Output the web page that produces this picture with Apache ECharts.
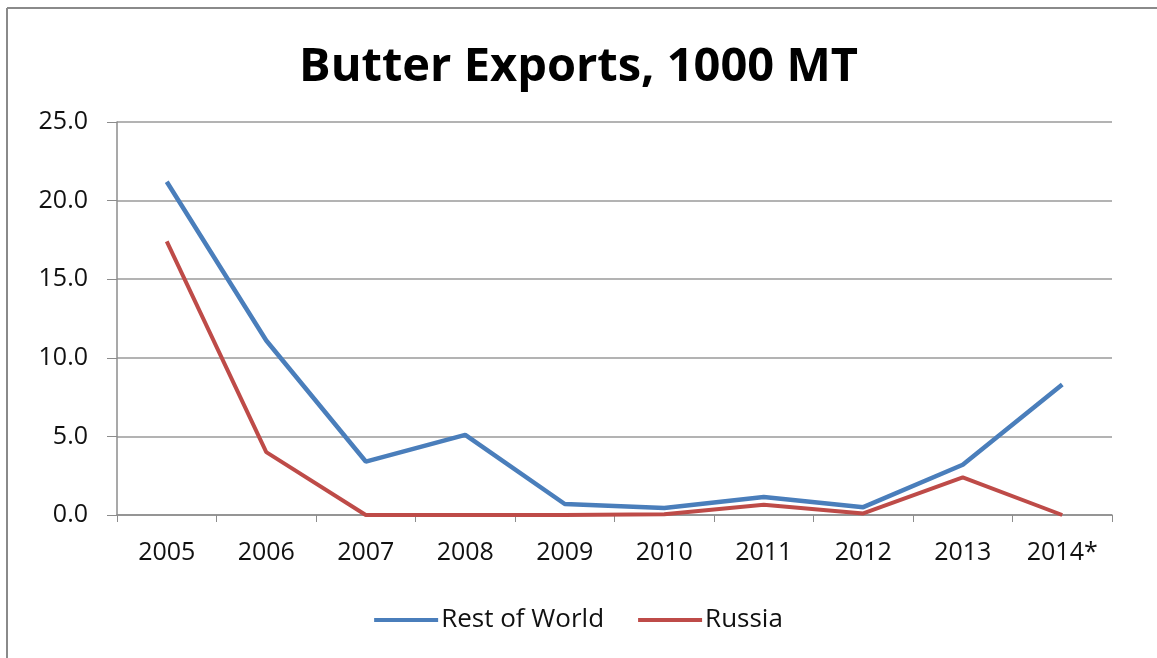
<!DOCTYPE html>
<html>
<head>
<meta charset="utf-8">
<script src="https://cdn.jsdelivr.net/npm/echarts@6/dist/echarts.min.js"></script>
<style>
html,body{margin:0;padding:0;background:#fff;}
#chart{width:1157px;height:658px;}
</style>
</head>
<body>
<div id="chart"></div>
<script>
const categories = ['2005','2006','2007','2008','2009','2010','2011','2012','2013','2014*'];
const restOfWorld = [21.2, 11.1, 3.4, 5.1, 0.7, 0.45, 1.15, 0.5, 3.2, 8.3];
const russia = [17.4, 4.0, 0.0, 0.0, 0.0, 0.05, 0.65, 0.1, 2.4, 0.0];
const seriesNames = ['Rest of World', 'Russia'];

const FONT = '"Open Sans", "Noto Sans", sans-serif';
const chart = echarts.init(document.getElementById('chart'));
chart.setOption({
  backgroundColor: '#fff',
  animation: false,
  title: {
    text: 'Butter Exports, 1000 MT',
    left: 'center',
    top: 39,
    textStyle: {fontFamily: FONT, fontWeight: 'bold', fontSize: 47, color: '#000'}
  },
  graphic: [
    {type: 'line', shape: {x1: 7, y1: 8, x2: 1157, y2: 8}, style: {stroke: '#8a8a8a', lineWidth: 2}},
    {type: 'line', shape: {x1: 7, y1: 8, x2: 7, y2: 658}, style: {stroke: '#8a8a8a', lineWidth: 2}}
  ],
  legend: {
    bottom: 20,
    left: 'center',
    itemWidth: 64,
    itemHeight: 4,
    itemGap: 34,
    icon: 'rect',
    textStyle: {fontFamily: FONT, fontSize: 26, color: '#111', padding: [0, 0, 0, -2]},
    data: seriesNames
  },
  grid: {left: 117, right: 45, top: 122, bottom: 143, containLabel: false},
  xAxis: {
    type: 'category',
    data: categories,
    boundaryGap: true,
    axisLine: {lineStyle: {color: '#8c8c8c', width: 1.5}},
    axisTick: {show: true, length: 7, interval: 0, lineStyle: {color: '#8c8c8c'}},
    axisLabel: {fontFamily: FONT, fontSize: 25, color: '#111', margin: 25, interval: 0}
  },
  yAxis: {
    type: 'value',
    min: 0, max: 25, interval: 5,
    axisLine: {show: true, lineStyle: {color: '#8c8c8c', width: 1.5}},
    axisTick: {show: true, length: 10, lineStyle: {color: '#8c8c8c'}},
    axisLabel: {fontFamily: FONT, fontSize: 25, color: '#111', margin: 29, formatter: v => v.toFixed(1)},
    splitLine: {show: true, lineStyle: {color: '#9a9a9a', width: 1.5}}
  },
  series: [
    {name: seriesNames[0], type: 'line', data: restOfWorld, symbol: 'none', color: '#4a7ebb', lineStyle: {width: 4.5, color: '#4a7ebb'}, itemStyle: {color: '#4a7ebb'}},
    {name: seriesNames[1], type: 'line', data: russia, symbol: 'none', color: '#be4b48', lineStyle: {width: 4, color: '#be4b48'}, itemStyle: {color: '#be4b48'}}
  ]
});
</script>
</body>
</html>
